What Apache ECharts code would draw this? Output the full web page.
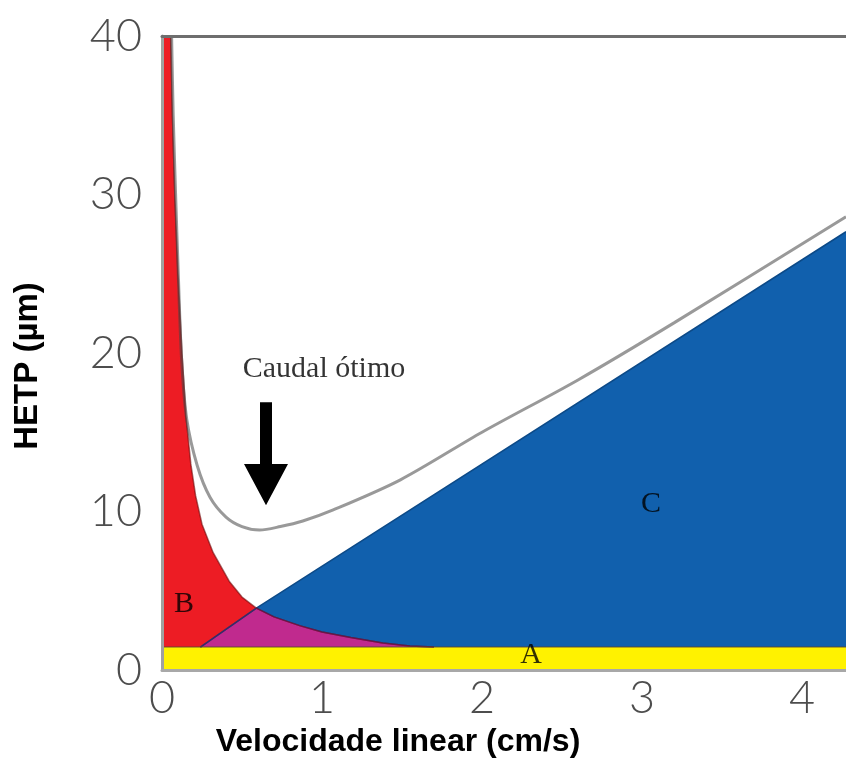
<!DOCTYPE html>
<html>
<head>
<meta charset="utf-8">
<script src="https://cdn.jsdelivr.net/npm/echarts@6/dist/echarts.min.js"></script>
<style>
  html, body { margin: 0; padding: 0; background: #fff; }
  #chart { width: 846px; height: 765px; }
</style>
</head>
<body>
<div id="chart"></div>
<script>
// Van Deemter plot: HETP against linear velocity, split into its A, B and C terms.
const xTicks = ['0', '1', '2', '3', '4'];
const yTicks = ['0', '10', '20', '30', '40'];

// A term: constant band
const termA = [[0, 1.45], [4.275, 1.45]];
// B term (longitudinal diffusion), falls off steeply with velocity
const termB = [
  [0, 40], [0.055, 40], [0.065, 35], [0.08, 30], [0.1, 25], [0.125, 20],
  [0.15, 16], [0.18, 13], [0.21, 11], [0.25, 9.2], [0.32, 7.4], [0.42, 5.6],
  [0.5, 4.6], [0.59, 3.9], [0.7, 3.35], [0.86, 2.8], [1.0, 2.4], [1.18, 2.05],
  [1.38, 1.7], [1.55, 1.52], [1.7, 1.45]
];
// C term (mass transfer), rises linearly
const termC = [[0.24, 1.45], [0.59, 3.9], [4.275, 27.65]];
// region where the B and C terms overlap
const overlapBC = [
  [0.24, 1.45], [0.59, 3.9], [0.7, 3.35], [0.86, 2.8], [1.0, 2.4],
  [1.18, 2.05], [1.38, 1.7], [1.55, 1.52], [1.7, 1.45]
];
// total HETP curve
const totalH = [
  [0.06, 40], [0.07, 35], [0.085, 30], [0.1, 25.5], [0.123, 19.5], [0.155, 15.8],
  [0.22, 12.9], [0.3, 10.9], [0.4, 9.65], [0.5, 9.05], [0.61, 8.83], [0.74, 9.05],
  [0.88, 9.4], [1.07, 10.1], [1.49, 12.0], [2.0, 15.0], [2.6, 18.3],
  [3.2, 21.9], [4.275, 28.6]
];
// optimum-flow arrow: x, shaft top, head base, tip
const arrow = [[0.65, 16.9, 13.0, 10.4]];
// annotations
const notes = [
  { name: 'Caudal ótimo', value: [1.0125, 19.0] },
  { name: 'B', value: [0.1375, 4.16] },
  { name: 'A', value: [2.306, 0.95] },
  { name: 'C', value: [3.056, 10.47] }
];

const chart = echarts.init(document.getElementById('chart'), null, { renderer: 'canvas' });

const tickFont = {
  fontFamily: 'Lato, "Open Sans", sans-serif',
  fontWeight: 300,
  fontSize: 45,
  color: '#4d4d4d'
};

function areaSeries(data, fill, edge, edgeWidth) {
  return {
    type: 'line',
    data: data,
    symbol: 'none',
    smooth: false,
    lineStyle: { color: edge, width: edgeWidth },
    areaStyle: { color: fill, opacity: 1, origin: 'start' },
    z: 2
  };
}

chart.setOption({
  animation: false,
  backgroundColor: '#ffffff',
  grid: { left: 162, right: 0, top: 36, bottom: 95 },
  xAxis: [{
    type: 'value',
    min: 0, max: 4.275, interval: 1,
    name: 'Velocidade linear (cm/s)',
    nameLocation: 'middle',
    nameGap: 55,
    nameTextStyle: {
      fontFamily: 'Liberation Sans, Arial, sans-serif', fontWeight: 'bold',
      fontSize: 32, color: '#000', padding: [0, 212, 0, 0]
    },
    axisLine: { show: true, lineStyle: { color: '#a8a8a8', width: 3 } },
    axisTick: { show: false },
    splitLine: { show: false },
    axisLabel: Object.assign({
      margin: 6,
      showMaxLabel: false,
      formatter: v => (Number.isInteger(v) && xTicks[v] !== undefined ? xTicks[v] : '')
    }, tickFont),
    z: 10
  }, {
    type: 'value',
    position: 'top',
    min: 0, max: 4.275,
    axisLine: { show: true, onZero: false, lineStyle: { color: '#6e6e6e', width: 3 } },
    axisTick: { show: false },
    axisLabel: { show: false },
    splitLine: { show: false },
    z: 10
  }],
  yAxis: {
    type: 'value',
    min: 0, max: 40, interval: 10,
    name: 'HETP (µm)',
    nameLocation: 'middle',
    nameGap: 118,
    nameTextStyle: {
      fontFamily: 'Liberation Sans, Arial, sans-serif', fontWeight: 'bold',
      fontSize: 33, color: '#000', padding: [0, 26, 0, 0]
    },
    axisLine: { show: true, lineStyle: { color: '#a0a0a0', width: 3 } },
    axisTick: { show: false },
    splitLine: { show: false },
    axisLabel: Object.assign({
      margin: 20,
      formatter: v => yTicks[Math.round(v / 10)] || ''
    }, tickFont),
    z: 10
  },
  series: [
    areaSeries(termC, '#1160ad', '#0c4a88', 1.5),
    areaSeries(termB, '#ed1c24', 'rgba(110,10,10,0.6)', 1.5),
    areaSeries(overlapBC, '#c02a8e', 'rgba(90,20,80,0.6)', 1.5),
    areaSeries(termA, '#fff200', 'rgba(90,70,50,0.6)', 1.5),
    {
      type: 'line',
      data: totalH,
      symbol: 'none',
      smooth: 0.3,
      lineStyle: { color: 'rgba(70,70,70,0.55)', width: 3 },
      z: 5
    },
    {
      type: 'custom',
      data: arrow,
      z: 6,
      renderItem: function (params, api) {
        const x = api.value(0);
        const top = api.coord([x, api.value(1)]);
        const base = api.coord([x, api.value(2)]);
        const tip = api.coord([x, api.value(3)]);
        const shaftHalf = 6, headHalf = 22;
        return {
          type: 'polygon',
          shape: {
            points: [
              [top[0] - shaftHalf, top[1]], [top[0] + shaftHalf, top[1]],
              [base[0] + shaftHalf, base[1]], [base[0] + headHalf, base[1]],
              [tip[0], tip[1]],
              [base[0] - headHalf, base[1]], [base[0] - shaftHalf, base[1]]
            ]
          },
          style: { fill: '#000' }
        };
      }
    },
    {
      type: 'scatter',
      data: notes,
      symbolSize: 0,
      z: 7,
      label: {
        show: true,
        position: 'inside',
        formatter: p => p.name,
        fontFamily: '"Liberation Serif", "Times New Roman", serif',
        fontSize: 30,
        color: '#000'
      }
    }
  ]
});
</script>
</body>
</html>
